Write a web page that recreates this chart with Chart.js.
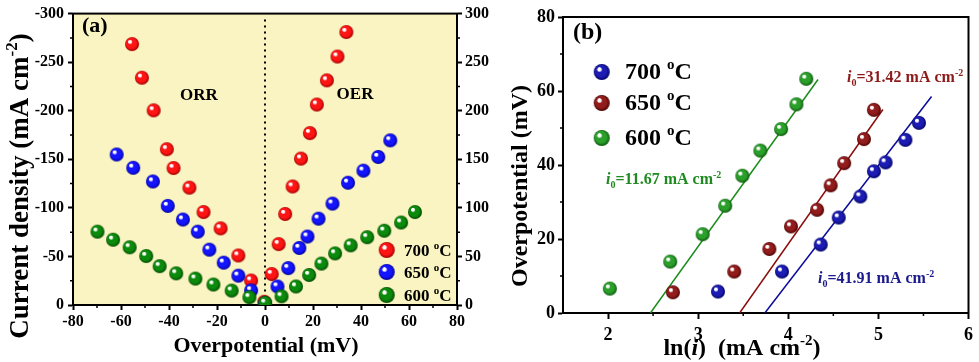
<!DOCTYPE html>
<html><head><meta charset="utf-8">
<script src="https://cdn.jsdelivr.net/npm/chart.js@4/dist/chart.umd.min.js"></script>
<style>
body{margin:0;width:979px;height:362px;background:#fff;overflow:hidden;position:relative}
#ca{position:absolute;left:0;top:0}
#cb{position:absolute;left:490px;top:0}
</style></head><body>
<canvas id="ca" width="490" height="362"></canvas>
<canvas id="cb" width="489" height="362"></canvas>
<script>
// ---------- DATA ----------
const tempLabels = ['700', '650', '600'];
// Panel (a): overpotential (mV) vs |current density| (mA cm-2)
const aX700 = [-55.4,-51.3,-46.4,-40.9,-38.1,-31.5,-25.6,-18.5,-11.1,-5.8,-0.3,2.8,5.7,8.4,11.5,15.0,18.7,21.6,25.8,30.2,33.9];
const aY700 = [268.6,234,200.4,160.4,141,120.8,95.7,78.9,51,25.2,3.3,31.9,62.7,93.7,122,150.7,177,206.4,231.3,255.8,281];
const aX650 = [-61.8,-54.9,-46.7,-40.5,-34.2,-28,-23.2,-17.2,-11.1,-5.8,0,5.2,9.7,14.3,17.7,22.3,28.1,34.6,41,47.2,52.2];
const aY650 = [155,141.3,127.2,102,88,75.5,57,43.6,30.2,15.1,2,19.1,38,58.7,70.5,88.9,104.4,125.9,138.3,152.4,169.5];
const aX600 = [-69.8,-63.3,-56.4,-49.5,-43.9,-37,-29,-21.5,-13.9,-6.5,0.1,6.9,12.9,18.4,23.5,29.2,35.7,42.6,49.7,56.7,62.5];
const aY600 = [75.5,67.2,59.4,50.4,40,32.6,27.2,21.1,14.8,8,2.3,9,19.1,30.9,42.6,53.1,61.4,69.8,76.5,84.9,95.7];
const aXTicks = [-80,-60,-40,-20,0,20,40,60,80];
const aYTicks = [0,50,100,150,200,250,300];
// Panel (b): ln(i) vs overpotential (mV)
const bX700 = [3.22,3.93,4.36,4.56,4.8,4.95,5.08,5.3,5.45];
const bY700 = [5.8,11.2,18.5,25.8,31.5,38.3,40.7,46.8,51.4];
const bX650 = [2.72,3.4,3.79,4.03,4.32,4.47,4.62,4.84,4.95];
const bY650 = [5.6,11.2,17.3,23.4,27.9,34.5,40.5,47,54.9];
const bX600 = [2.02,2.69,3.05,3.3,3.49,3.69,3.92,4.09,4.2];
const bY600 = [6.6,13.9,21.3,29,37.1,43.9,49.7,56.4,63.3];
const bFitX700 = [3.74,5.59], bFitY700 = [0,58.5];
const bFitX650 = [3.46,5.05], bFitY650 = [0,55];
const bFitX600 = [2.47,4.33], bFitY600 = [0,63.1];
const bI0 = {'700':'41.91','650':'31.42','600':'11.67'};
const bXTicks = [2,3,4,5,6];
const bYTicks = [0,20,40,60,80];

// ---------- helpers ----------
const FAM = '"Liberation Serif", "Times New Roman", serif';
const pts = (xs, ys) => xs.map((x,i)=>({x, y: ys[i]}));
function ball(color, dark, r){
  const s = 2*r+2, c = document.createElement('canvas'); c.width=s; c.height=s;
  const g = c.getContext('2d'), cx=s/2, cy=s/2;
  const grd = g.createRadialGradient(cx-r*0.38, cy-r*0.42, r*0.04, cx, cy, r);
  grd.addColorStop(0,'#ffffff'); grd.addColorStop(0.18,'#ffffff');
  grd.addColorStop(0.32,color); grd.addColorStop(0.7,color); grd.addColorStop(1,dark);
  g.fillStyle=grd; g.beginPath(); g.arc(cx,cy,r,0,Math.PI*2); g.fill();
  return c;
}
function rich(ctx, segs, x, y, size, color, align, rot){
  ctx.save(); ctx.translate(x,y); if(rot) ctx.rotate(rot);
  ctx.textBaseline='alphabetic'; ctx.textAlign='left'; ctx.fillStyle=color;
  const f = s => `${s.it?'italic ':''}bold ${(s.sup||s.sub)?Math.round(size*0.62):size}px ${FAM}`;
  let w=0; for(const s of segs){ctx.font=f(s); w+=ctx.measureText(s.t).width;}
  let cx = align==='center'?-w/2:(align==='right'?-w:0);
  for(const s of segs){ctx.font=f(s); const dy=s.sup?-size*0.4:(s.sub?size*0.28:0); ctx.fillText(s.t,cx,dy); cx+=ctx.measureText(s.t).width;}
  ctx.restore();
}
function minorTicks(ctx, scale, vals, side, len){
  ctx.save(); ctx.strokeStyle='#000'; ctx.lineWidth=1.5; ctx.beginPath();
  for(const v of vals){
    const p = scale.getPixelForValue(v);
    if(side==='left'){ctx.moveTo(scale.right,p);ctx.lineTo(scale.right-len,p);}
    if(side==='right'){ctx.moveTo(scale.left,p);ctx.lineTo(scale.left+len,p);}
    if(side==='bottom'){ctx.moveTo(p,scale.top);ctx.lineTo(p,scale.top+len);}
  }
  ctx.stroke(); ctx.restore();
}
function range(a,b,st){const r=[];for(let v=a;v<=b+1e-9;v+=st)r.push(+v.toFixed(6));return r;}

const ballsA = [ball('#ff1414','#a00000',7), ball('#1414ff','#00009a',7), ball('#0b8a0b','#034a03',7)];
const ballsB = [ball('#1c1cb4','#000060',7), ball('#921c1c','#4a0000',7), ball('#2aa02a','#0a560a',7)];
const legBallsA = [ball('#ff1414','#a00000',8), ball('#1414ff','#00009a',8), ball('#0b8a0b','#034a03',8)];
const legBallsB = [ball('#1c1cb4','#000060',8), ball('#921c1c','#4a0000',8), ball('#2aa02a','#0a560a',8)];

function axisCommon(min,max,tickVals,fontSize,pad,tl){
  return {type:'linear',min,max,
    afterBuildTicks:s=>{s.ticks=tickVals.map(v=>({value:v}));},
    grid:{drawOnChartArea:false,tickLength:tl,tickWidth:2,tickColor:'#000'},
    border:{display:true,color:'#000',width:2},
    ticks:{color:'#000',font:{family:FAM,size:fontSize,weight:'bold'},padding:pad,maxRotation:0,autoSkip:false}};
}

// ---------- Panel (a) ----------
const plugA = {id:'decoA',
  beforeDraw(ch){const {ctx,chartArea:a}=ch; ctx.save(); ctx.fillStyle='#faf4c2'; ctx.fillRect(a.left,a.top,a.width,a.height); ctx.restore();},
  beforeDatasetsDraw(ch){
    const {ctx,chartArea:a,scales}=ch;
    minorTicks(ctx,scales.x,range(-70,70,20),'bottom',3);
    minorTicks(ctx,scales.y,range(25,275,50),'left',3);
    minorTicks(ctx,scales.y2,range(25,275,50),'right',3);
    ctx.save(); ctx.strokeStyle='#000'; ctx.lineWidth=2; ctx.setLineDash([2,4]);
    const x0=scales.x.getPixelForValue(0); ctx.beginPath(); ctx.moveTo(x0,a.top+6); ctx.lineTo(x0,a.bottom); ctx.stroke();
    ctx.setLineDash([]); ctx.strokeRect(a.left,a.top,a.width,a.height); ctx.restore();
  },
  afterDatasetsDraw(ch){
    const {ctx}=ch;
    rich(ctx,[{t:'(a)'}],82,32,22,'#000','left');
    rich(ctx,[{t:'ORR'}],199,100,17,'#000','center');
    rich(ctx,[{t:'OER'}],355,99,17,'#000','center');
    const ly=[250,272,295];
    for(let i=0;i<3;i++){
      const b=legBallsA[i]; ctx.drawImage(b,386.7-b.width/2,ly[i]-b.height/2);
      rich(ctx,[{t:tempLabels[i]+' '},{t:'o',sup:true},{t:'C'}],404,ly[i]+6,17,'#000','left');
    }
    rich(ctx,[{t:'Overpotential (mV)'}],266,352,22,'#000','center');
    rich(ctx,[{t:'Current density (mA cm'},{t:'-2',sup:true},{t:')'}],28,186,27,'#000','center',-Math.PI/2);
  }
};
const ax = axisCommon(-80,80,aXTicks,16,2,5); ax.position='bottom'; ax.afterFit=s=>{s.height=57;};
const ay = axisCommon(0,300,aYTicks,16,4,5); ay.position='left'; ay.afterFit=s=>{s.width=73;};
ay.ticks.callback=v=>v===0?'0':'-'+v;
const ay2 = axisCommon(0,300,aYTicks,16,3,5); ay2.position='right'; ay2.afterFit=s=>{s.width=33;};
new Chart(document.getElementById('ca'),{
  type:'scatter',
  data:{datasets:[
    {label:tempLabels[0]+' ºC',data:pts(aX700,aY700),pointStyle:ballsA[0],pointRadius:7,order:2},
    {label:tempLabels[1]+' ºC',data:pts(aX650,aY650),pointStyle:ballsA[1],pointRadius:7,order:1},
    {label:tempLabels[2]+' ºC',data:pts(aX600,aY600),pointStyle:ballsA[2],pointRadius:7,order:0}
  ]},
  options:{responsive:false,animation:false,devicePixelRatio:1,
    layout:{padding:{top:7,left:0,right:0,bottom:0},autoPadding:false},
    plugins:{legend:{display:false},tooltip:{enabled:false}},
    scales:{x:ax,y:ay,y2:ay2}},
  plugins:[plugA]
});

// ---------- Panel (b) ----------
const colB = ['#1a1a8c','#8b1a1a','#1f8a1f'];
const lineB = ['#0a0a9a','#8b0a0a','#1a8c1a'];
const plugB = {id:'decoB',
  beforeDatasetsDraw(ch){
    const {ctx,chartArea:a,scales}=ch;
    minorTicks(ctx,scales.x,range(2.5,5.5,1),'bottom',3);
    minorTicks(ctx,scales.y,range(10,70,20),'left',3);
    ctx.save(); ctx.strokeStyle='#000'; ctx.lineWidth=2; ctx.strokeRect(a.left,a.top,a.width,a.height); ctx.restore();
  },
  afterDatasetsDraw(ch){
    const {ctx}=ch;
    rich(ctx,[{t:'(b)'}],83,39,24,'#000','left');
    const ly=[72,103,138];
    for(let i=0;i<3;i++){
      const b=legBallsB[i]; ctx.drawImage(b,111.7-b.width/2,ly[i]-b.height/2);
      rich(ctx,[{t:tempLabels[i]+' '},{t:'o',sup:true},{t:'C'}],135,ly[i]+7,24,'#000','left');
    }
    const ann=[['600',116,184,2],['650',357,82,1],['700',328,283,0]];
    for(const [k,x,y,ci] of ann){
      rich(ctx,[{t:'i',it:true},{t:'0',sub:true},{t:'='+bI0[k]+' mA cm'},{t:'-2',sup:true}],x,y,16,colB[ci],'left');
    }
    rich(ctx,[{t:'ln('},{t:'i',it:true},{t:')  (mA cm'},{t:'-2',sup:true},{t:')'}],252,355,24,'#000','center');
    rich(ctx,[{t:'Overpotential (mV)'}],37,186,24,'#000','center',-Math.PI/2);
  }
};
const bx = axisCommon(1.5,6,bXTicks,18,6,6); bx.position='bottom'; bx.afterFit=s=>{s.height=49;};
const by = axisCommon(0,80,bYTicks,18,3,5); by.position='left'; by.afterFit=s=>{s.width=73;};
const fitDs=(xs,ys,c)=>({data:pts(xs,ys),showLine:true,pointRadius:0,borderColor:c,borderWidth:1.5,order:5});
new Chart(document.getElementById('cb'),{
  type:'scatter',
  data:{datasets:[
    fitDs(bFitX700,bFitY700,lineB[0]),
    fitDs(bFitX650,bFitY650,lineB[1]),
    fitDs(bFitX600,bFitY600,lineB[2]),
    {label:tempLabels[0]+' °C',data:pts(bX700,bY700),pointStyle:ballsB[0],pointRadius:7,order:2},
    {label:tempLabels[1]+' °C',data:pts(bX650,bY650),pointStyle:ballsB[1],pointRadius:7,order:1},
    {label:tempLabels[2]+' °C',data:pts(bX600,bY600),pointStyle:ballsB[2],pointRadius:7,order:0}
  ]},
  options:{responsive:false,animation:false,devicePixelRatio:1,
    layout:{padding:{top:17,left:0,right:5,bottom:0},autoPadding:false},
    plugins:{legend:{display:false},tooltip:{enabled:false}},
    scales:{x:bx,y:by}},
  plugins:[plugB]
});
</script>
</body></html>
